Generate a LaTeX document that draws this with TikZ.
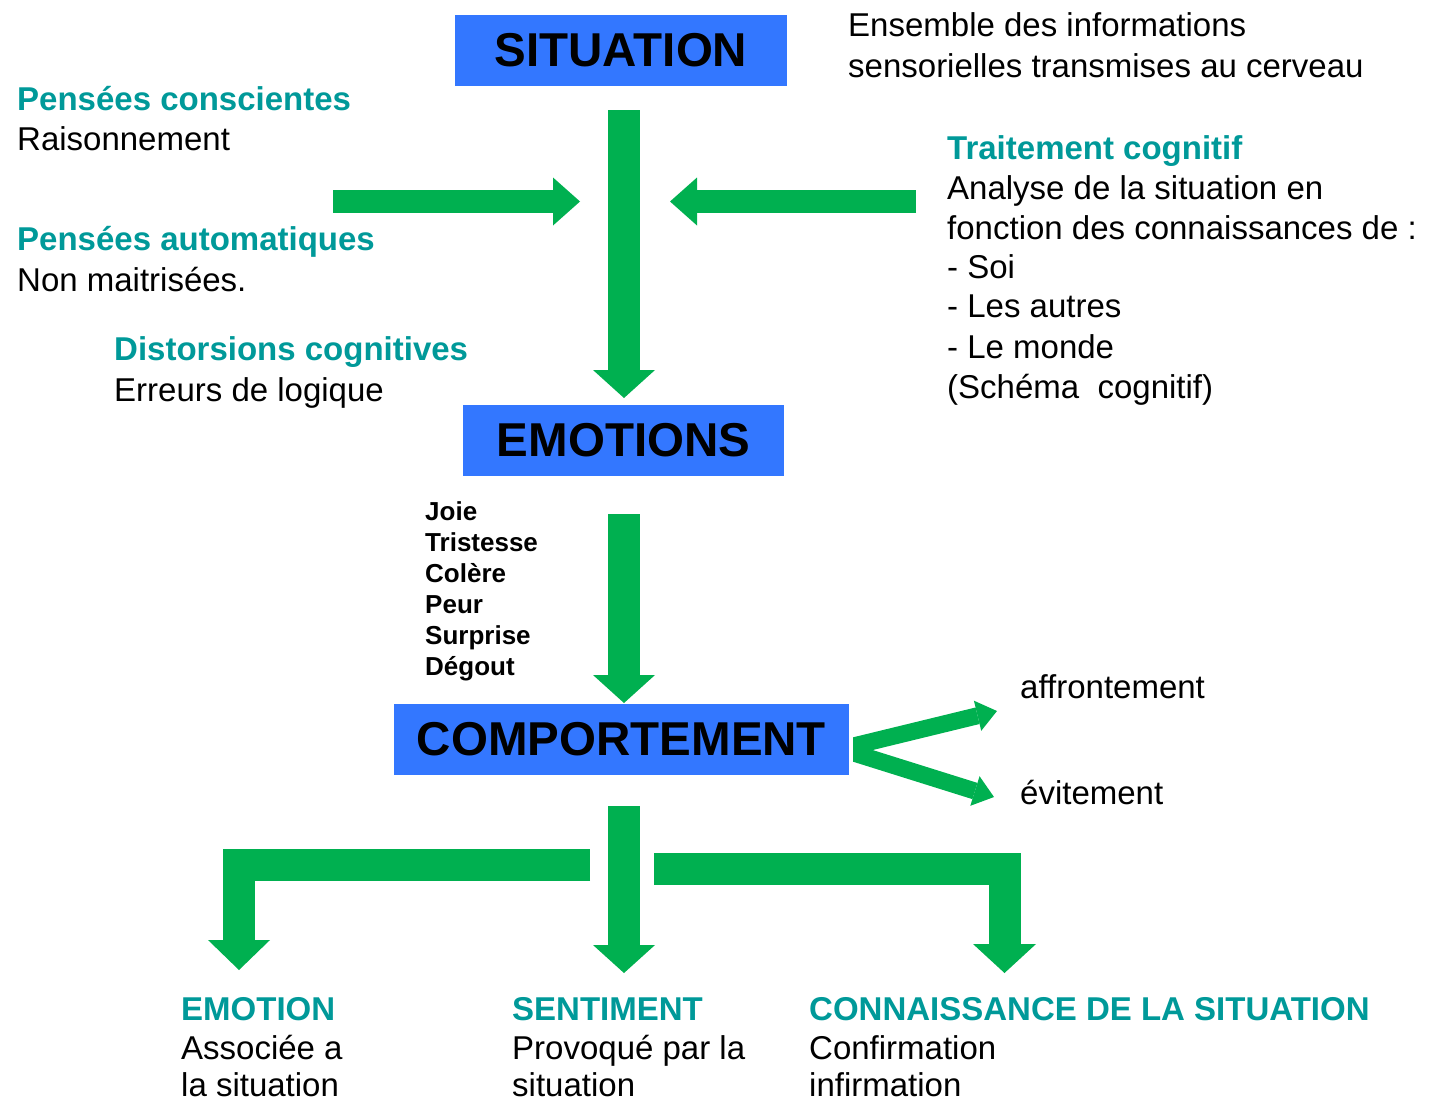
\documentclass[tikz,border=0pt]{standalone}
\usepackage{fontspec}
\setmainfont{Liberation Sans}
\usetikzlibrary{arrows.meta}
\definecolor{boxblue}{RGB}{51,119,255}
\definecolor{agreen}{RGB}{0,176,80}
\definecolor{tealtxt}{RGB}{0,153,153}
\begin{document}
\begin{tikzpicture}[x=1pt,y=-1pt,
  box/.style={fill=boxblue, draw=none, inner sep=0pt, minimum height=71pt,
    font=\fontsize{47.5}{56}\selectfont\bfseries},
  txt/.style={anchor=base west, inner sep=0pt, font=\fontsize{33}{40}\selectfont},
  head/.style={anchor=base west, inner sep=0pt, text=tealtxt,
    font=\fontsize{33}{40}\selectfont\bfseries},
  emol/.style={anchor=base west, inner sep=0pt, font=\fontsize{26}{31}\selectfont\bfseries},
  bigarrow/.style={draw=agreen, line width=32pt, line join=miter,
    -{Triangle[width=62pt,length=28pt,line width=0pt]}},
  midarrow/.style={draw=agreen, line width=23pt,
    -{Triangle[width=48pt,length=27pt,line width=0pt]}},
  forkarrow/.style={draw=agreen, line width=17pt, line join=miter,
    {Triangle[width=31pt,length=20pt,line width=0pt]}-{Triangle[width=31pt,length=20pt,line width=0pt]}}
]
\useasboundingbox (0,0) rectangle (1429,1101);

% boxes
\node[box, minimum width=332pt] (sit) at (621,50.5) {SITUATION};
\node[box, minimum width=321pt] (emo) at (623.5,440.5) {EMOTIONS};
\node[box, minimum width=455pt] (comp) at (621.5,739.5) {COMPORTEMENT};

% top right
\node[txt] (ens1) at (848,36) {Ensemble des informations};
\node[txt] (ens2) at (848,77) {sensorielles transmises au cerveau};

% left texts
\node[head] (pc) at (17,110) {Pensées conscientes};
\node[txt] (pc2) at (17,150) {Raisonnement};
\node[head] (pa) at (17,250) {Pensées automatiques};
\node[txt] (pa2) at (17,291) {Non maitrisées.};
\node[head] (dc) at (114,360) {Distorsions cognitives};
\node[txt] (dc2) at (114,401) {Erreurs de logique};

% right texts
\node[head] (tc) at (947,159) {Traitement cognitif};
\node[txt] (tc2) at (947,199) {Analyse de la situation en};
\node[txt] (tc3) at (947,239) {fonction des connaissances de :};
\node[txt] (tc4) at (947,278) {- Soi};
\node[txt] (tc5) at (947,317) {- Les autres};
\node[txt] (tc6) at (947,358) {- Le monde};
\node[txt] (tc7) at (947,398) {(Schéma\ \ cognitif)};

% emotions list
\node[emol] (e1) at (425,520) {Joie};
\node[emol] (e2) at (425,551) {Tristesse};
\node[emol] (e3) at (425,582) {Colère};
\node[emol] (e4) at (425,613) {Peur};
\node[emol] (e5) at (425,644) {Surprise};
\node[emol] (e6) at (425,675) {Dégout};

% behaviour
\node[txt] (aff) at (1020,698) {affrontement};
\node[txt] (evi) at (1020,804) {évitement};

% bottom
\node[head] (b1) at (181,1020) {EMOTION};
\node[txt] (b1a) at (181,1059) {Associée a};
\node[txt] (b1b) at (181,1096) {la situation};
\node[head] (b2) at (512,1020) {SENTIMENT};
\node[txt] (b2a) at (512,1059) {Provoqué par la};
\node[txt] (b2b) at (512,1096) {situation};
\node[head] (b3) at (809,1020) {CONNAISSANCE DE LA SITUATION};
\node[txt] (b3a) at (809,1059) {Confirmation};
\node[txt] (b3b) at (809,1096) {infirmation};

% arrow coordinates
\coordinate (a1s) at (624,110);  \coordinate (a1e) at (624,398);
\coordinate (a2s) at (624,514);  \coordinate (a2e) at (624,703);
\coordinate (a3s) at (624,806);  \coordinate (a3e) at (624,973);
\coordinate (hl1) at (333,201.5); \coordinate (hl2) at (580,201.5);
\coordinate (hr1) at (916,201.5); \coordinate (hr2) at (670,201.5);
\coordinate (ll1) at (590,864.5); \coordinate (ll2) at (239,970);
\coordinate (lr1) at (654,868.5); \coordinate (lr2) at (1004.5,973);
\coordinate (fk) at (841,749); \coordinate (fa) at (997,711); \coordinate (fe) at (994,797);

\draw[bigarrow] (a1s) -- (a1e);
\draw[bigarrow] (a2s) -- (a2e);
\draw[bigarrow] (a3s) -- (a3e);
\draw[midarrow] (hl1) -- (hl2);
\draw[midarrow] (hr1) -- (hr2);
\draw[bigarrow, -{Triangle[width=62pt,length=30pt,line width=0pt]}] (ll1) -| (ll2);
\draw[bigarrow, -{Triangle[width=63pt,length=29pt,line width=0pt]}] (lr1) -| (lr2);
\begin{scope}
  \clip (853,600) rectangle (1100,900);
  \draw[forkarrow] (fa) -- (fk) -- (fe);
\end{scope}
\end{tikzpicture}
\end{document}
